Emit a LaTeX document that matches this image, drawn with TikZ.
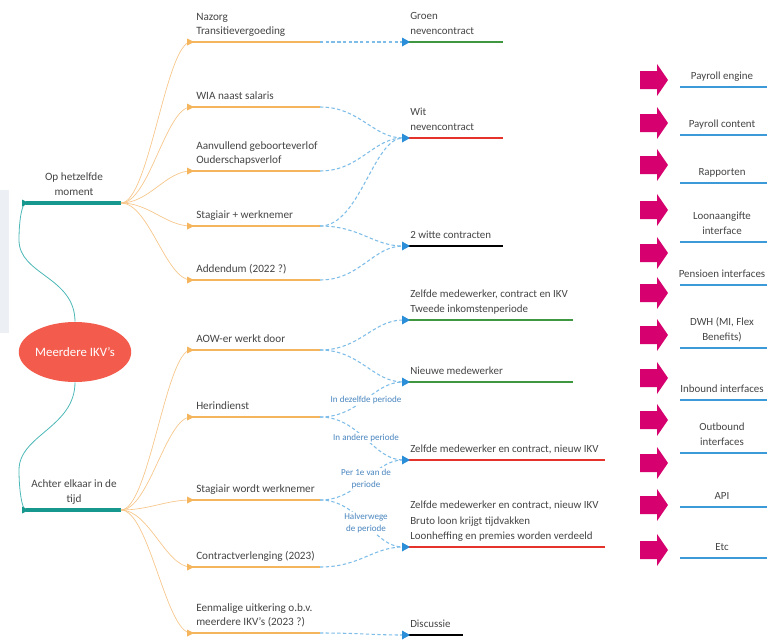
\documentclass[tikz,border=0pt]{standalone}
\usepackage{fontspec}
\setmainfont{Carlito}
\usetikzlibrary{arrows.meta,shapes.geometric,calc}
\definecolor{org}{HTML}{F5B55C}
\definecolor{orgthin}{HTML}{F7C688}
\definecolor{tealc}{HTML}{17988F}
\definecolor{tealthin}{HTML}{4DB8B8}
\definecolor{dblue}{HTML}{7DBDE8}
\definecolor{tipblue}{HTML}{2B8ED8}
\definecolor{grn}{HTML}{3F983F}
\definecolor{rd}{HTML}{E5322B}
\definecolor{txt}{HTML}{454545}
\definecolor{pinkc}{HTML}{D6006E}
\definecolor{lineblue}{HTML}{3C9AD8}
\definecolor{ellc}{HTML}{F35B4C}
\definecolor{lblblue}{HTML}{4A86BF}
\definecolor{panel}{HTML}{ECEFF4}
\begin{document}
\begin{tikzpicture}[x=0.75pt,y=-0.75pt,
  lbl/.style={font=\fontsize{8.4}{10.6}\selectfont, text=txt, align=left, inner sep=0pt, text depth=0pt, anchor=south west},
  tlbl/.style={font=\fontsize{8.2}{11.8}\selectfont, text=txt, align=left, inner sep=0pt, text depth=0pt, anchor=south west},
  plbl/.style={font=\fontsize{8.2}{11.5}\selectfont, text=txt, align=center, inner sep=0pt, text depth=0pt, anchor=south},
  clbl/.style={font=\fontsize{8.4}{11.5}\selectfont, text=txt, align=center, inner sep=0pt, text depth=0pt, anchor=south},
  slbl/.style={font=\fontsize{6.8}{9.5}\selectfont, text=lblblue, align=center, inner sep=0.5pt, fill=white},
  obar/.style={org, line width=2.1pt},
  tbar/.style={tealc, line width=2.4pt},
  gbar/.style={grn, line width=2.1pt},
  rbar/.style={rd, line width=2.1pt},
  kbar/.style={black, line width=2.1pt},
  bbar/.style={lineblue, line width=2.1pt},
  fan/.style={orgthin, line width=0.5pt},
  tcurve/.style={tealthin, line width=0.6pt},
  dcon/.style={dblue, dash pattern=on 2.5pt off 1.8pt, line width=0.8pt},
  tri/.pic={\fill[pic actions] (-4,-3.5) -- (3,0) -- (-4,3.5) -- cycle;},
  btri/.pic={\fill[pic actions] (-5,-4.5) -- (3,0) -- (-5,4.5) -- cycle;},
  pinkarrow/.pic={\fill[pinkc] (-14,-9) -- (3,-9) -- (3,-16) -- (14,0) -- (3,16) -- (3,9) -- (-14,9) -- cycle;}
]
\useasboundingbox (0,0) rectangle (767,639);
\clip (0,0) rectangle (767,639);
\fill[white] (0,0) rectangle (767,639);
\fill[panel] (0,190) rectangle (9,333);

% central ellipse
\node[ellipse, fill=ellc, minimum width=70.5pt, minimum height=45pt, inner sep=0pt,
      font=\fontsize{9.6}{12}\selectfont, text=white] (root) at (75,352) {Meerdere IKV's};

% teal main branches
\coordinate (b1a) at (26,203); \coordinate (b1b) at (121,203);
\coordinate (b2a) at (26,510); \coordinate (b2b) at (121,510);
\draw[tcurve] (root.north) .. controls +(0,-45) and +(0,35) .. (19,240) .. controls +(0,-20) and +(-4,0) .. (b1a);
\draw[tcurve] (root.south) .. controls +(0,45) and +(0,-35) .. (19,470) .. controls +(0,20) and +(-4,0) .. (b2a);
\draw[tbar] (b1a) -- (b1b);
\draw[tbar] (b2a) -- (b2b);
\pic[tealc] at (b1a) {tri};
\pic[tealc] at (b2a) {tri};
\node[clbl] (c1) at (74,196) {Op hetzelfde\\moment};
\node[clbl] (c2) at (74,503) {Achter elkaar in de\\tijd};

% orange items
\foreach \n/\y in {1/42,2/107,3/171,4/226,5/280,6/350,7/417,8/500,9/567,10/633}{
  \coordinate (o\n a) at (191,\y);
  \coordinate (o\n b) at (320,\y);
}
\foreach \n in {1,...,5}{\draw[fan] (b1b) .. controls +(28,0) and +(-25,0) .. (o\n a);}
\foreach \n in {6,...,10}{\draw[fan] (b2b) .. controls +(28,0) and +(-25,0) .. (o\n a);}
\foreach \n in {1,...,10}{\draw[obar] (o\n a) -- (o\n b); \pic[org] at (o\n a) {tri};}

\node[lbl] (t1) at (196,35) {Nazorg\\Transitievergoeding};
\node[lbl] (t2) at (196,100) {WIA naast salaris};
\node[lbl] (t3) at (196,164) {Aanvullend geboorteverlof\\Ouderschapsverlof};
\node[lbl] (t4) at (196,219) {Stagiair + werknemer};
\node[lbl] (t5) at (196,273) {Addendum (2022 ?)};
\node[lbl] (t6) at (196,343) {AOW-er werkt door};
\node[lbl] (t7) at (196,410) {Herindienst};
\node[lbl] (t8) at (196,493) {Stagiair wordt werknemer};
\node[lbl] (t9) at (196,560) {Contractverlenging (2023)};
\node[lbl] (t10) at (196,626) {Eenmalige uitkering o.b.v.\\meerdere IKV's (2023 ?)};

% target items
\foreach \n/\y/\e in {A/42/503,B/138/503,C/246/503,D/320/573,E/382/573,F/460/605,G/547/605,H/635/463}{
  \coordinate (\n a) at (403,\y);
  \coordinate (\n b) at (\e,\y);
}
\draw[gbar] (Aa) -- (Ab);
\draw[rbar] (Ba) -- (Bb);
\draw[kbar] (Ca) -- (Cb);
\draw[gbar] (Da) -- (Db);
\draw[gbar] (Ea) -- (Eb);
\draw[rbar] (Fa) -- (Fb);
\draw[rbar] (Ga) -- (Gb);
\draw[kbar] (Ha) -- (Hb);

% dashed connectors
\draw[dcon] (o1b) -- (Aa);
\draw[dcon] (o2b) .. controls +(40,0) and +(-30,0) .. (Ba);
\draw[dcon] (o3b) .. controls +(40,0) and +(-30,0) .. (Ba);
\draw[dcon] (o4b) .. controls +(40,0) and +(-30,0) .. (Ba);
\draw[dcon] (o4b) .. controls +(40,0) and +(-30,0) .. (Ca);
\draw[dcon] (o5b) .. controls +(40,0) and +(-30,0) .. (Ca);
\draw[dcon] (o6b) .. controls +(40,0) and +(-30,0) .. (Da);
\draw[dcon] (o6b) .. controls +(40,0) and +(-30,0) .. (Ea);
\draw[dcon] (o7b) .. controls +(40,0) and +(-30,0) .. (Ea);
\draw[dcon] (o7b) .. controls +(40,0) and +(-30,0) .. (Fa);
\draw[dcon] (o8b) .. controls +(40,0) and +(-30,0) .. (Fa);
\draw[dcon] (o8b) .. controls +(40,0) and +(-30,0) .. (Ga);
\draw[dcon] (o9b) .. controls +(40,0) and +(-30,0) .. (Ga);
\draw[dcon] (o10b) .. controls +(40,0) and +(-30,0) .. (Ha);

\foreach \n in {A,...,H}{\pic[tipblue] at ($(\n a)+(4,0)$) {btri};}

\node[slbl] (s1) at (366,400) {In dezelfde periode};
\node[slbl] (s2) at (366,438) {In andere periode};
\node[slbl] (s3) at (366,479) {Per 1e van de\\periode};
\node[slbl] (s4) at (366,523) {Halverwege\\de periode};

\node[tlbl] (uA) at (410,35) {Groen\\nevencontract};
\node[tlbl] (uB) at (410,131) {Wit\\nevencontract};
\node[tlbl] (uC) at (410,239) {2 witte contracten};
\node[tlbl] (uD) at (410,313) {Zelfde medewerker, contract en IKV\\Tweede inkomstenperiode};
\node[tlbl] (uE) at (410,375) {Nieuwe medewerker};
\node[tlbl] (uF) at (410,453) {Zelfde medewerker en contract, nieuw IKV};
\node[tlbl] (uG) at (410,540) {Zelfde medewerker en contract, nieuw IKV\\Bruto loon krijgt tijdvakken\\Loonheffing en premies worden verdeeld};
\node[tlbl] (uH) at (410,628) {Discussie};

% right panel
\foreach \n/\y in {1/80,2/123,3/165,4/210,5/253,6/293,7/335,8/378,9/420,10/463,11/505,12/550}{
  \pic at (654,\y) {pinkarrow};
}
\foreach \n/\y/\t in {1/87/{Payroll engine},2/135/{Payroll content},3/183/{Rapporten},4/242/{Loonaangifte\\interface},5/285/{Pensioen interfaces},6/348/{DWH (MI, Flex\\Benefits)},7/400/{Inbound interfaces},8/453/{Outbound\\interfaces},9/507/{API},10/558/{Etc}}{
  \coordinate (p\n a) at (680,\y);
  \coordinate (p\n b) at (770,\y);
  \draw[bbar] (p\n a) -- (p\n b);
  \node[plbl] (q\n) at (722,\y-7) {\t};
}
\end{tikzpicture}
\end{document}
